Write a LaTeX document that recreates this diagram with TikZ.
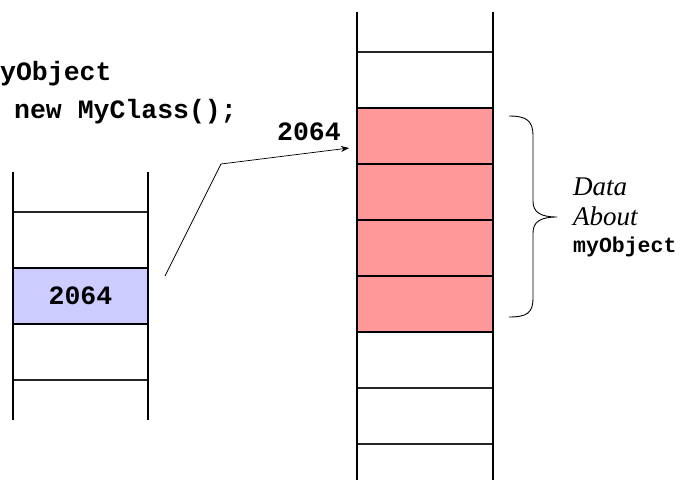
\documentclass[tikz,border=0pt]{standalone}
\usepackage{fontspec}
\setmonofont{Liberation Mono}
\newfontfamily\serifit{Liberation Serif}
\usetikzlibrary{arrows.meta}
\definecolor{heapred}{HTML}{FF9999}
\definecolor{stackblue}{HTML}{CCCCFF}
\begin{document}
\begin{tikzpicture}[x=1pt,y=-1pt,
  cellbox/.style={draw=black, line width=1.1pt, minimum width=135.5pt, minimum height=56pt, inner sep=0pt, outer sep=0pt},
  hline/.style={draw=black!85, line width=1.1pt},
  vline/.style={draw=black, line width=1.9pt},
  codefont/.style={font=\fontsize{26.5}{30}\selectfont\ttfamily\bfseries},
  codetxt/.style={codefont, inner sep=0pt, anchor=base west},
  ptr/.style={draw=black, line width=0.7pt},
  bracepath/.style={draw=black, line width=0.9pt},
  labit/.style={inner sep=0pt, anchor=base west, font=\serifit\fontsize{27}{30}\selectfont\itshape}
]
\useasboundingbox (0,0) rectangle (694,480);

% heap (right stack)
\node[cellbox, fill=heapred] (h1) at (425,136) {};
\node[cellbox, fill=heapred] (h2) at (425,192) {};
\node[cellbox, fill=heapred] (h3) at (425,248) {};
\node[cellbox, fill=heapred] (h4) at (425,304) {};
\draw[hline] (357,52) -- (493,52);
\draw[hline] (357,388) -- (493,388);
\draw[hline] (357,444) -- (493,444);
\draw[vline] (357,12) -- (357,480);
\draw[vline] (493,12) -- (493,480);

% stack (left)
\node[cellbox, fill=stackblue, codefont] (ref) at (80.5,296) {2064};
\draw[hline] (13,212) -- (148,212);
\draw[hline] (13,380) -- (148,380);
\draw[vline] (13,172) -- (13,420);
\draw[vline] (148,172) -- (148,420);

% code
\node[codetxt] (code1) at (0,80) {yObject};
\node[codetxt] (code2) at (14,118) {new MyClass();};

% pointer
\coordinate (pstart) at (165,276);
\coordinate (pkink) at (221,164);
\coordinate (ptip) at (349,148);
\draw[ptr, -{Stealth[length=8pt,width=6pt]}] (pstart) -- (pkink) -- (ptip);
\node[inner sep=0pt, codefont] (addr) at (309,132) {2064};

% brace
\draw[bracepath] (509,116) .. controls (527,116) and (533,121) .. (533,136)
  -- (533,201) .. controls (533,212) and (540,217) .. (557,217)
  .. controls (540,217) and (533,222) .. (533,233)
  -- (533,298) .. controls (533,313) and (527,317) .. (509,317);

% label
\node[labit] (lab1) at (573,195) {Data};
\node[labit] (lab2) at (573,225) {About};
\node[inner sep=0pt, anchor=base west, font=\fontsize{21.5}{24}\selectfont\ttfamily\bfseries] (lab3) at (573,252) {myObject};
\end{tikzpicture}
\end{document}
